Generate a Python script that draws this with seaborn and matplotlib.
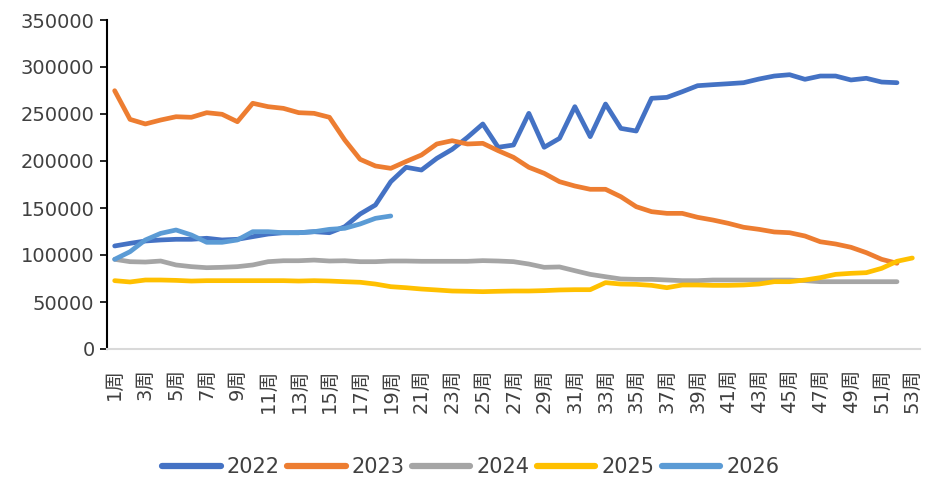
import numpy as np
import pandas as pd
import seaborn as sns
import matplotlib.pyplot as plt

weeks = list(range(1, 54))
week_labels = [f"{w}周" for w in weeks]

s2022 = [109600, 112400, 114900, 116000, 116700, 116700, 117800, 116000, 116700, 119500,
         122300, 123700, 123700, 124800, 123700, 130100, 143600, 153200, 178000, 193300,
         190400, 202800, 212400, 225200, 239400, 214600, 217000, 250700, 214600, 224100,
         257800, 225900, 260600, 234700, 231900, 266700, 267700, 273700, 280100, 281200,
         282200, 283300, 287200, 290400, 291800, 286900, 290400, 290400, 286200, 288000,
         284000, 283300]
s2023 = [274800, 244300, 239400, 243600, 247100, 246500, 251400, 249700, 241800, 261400,
         257800, 256000, 251400, 250700, 246500, 222300, 201800, 194700, 192200, 199500,
         206400, 218100, 221600, 218100, 218800, 211000, 203900, 193300, 186900, 178000,
         173400, 169900, 169900, 162000, 151400, 146100, 144300, 144300, 140100, 137200,
         133700, 129500, 127300, 124500, 123700, 120200, 114100, 111700, 108200, 102500,
         95400, 91200]
s2024 = [95400, 92900, 92500, 93600, 89400, 87600, 86500, 86900, 87600, 89400,
         92900, 93900, 93900, 94600, 93600, 93900, 92900, 92900, 93600, 93600,
         93300, 93300, 93300, 93300, 94000, 93600, 92900, 90400, 86900, 87300,
         83300, 79400, 76900, 74500, 74100, 74100, 73400, 72700, 72700, 73400,
         73400, 73400, 73400, 73400, 73400, 72700, 71600, 71600, 71600, 71600,
         71600, 71600]
s2025 = [72700, 71300, 73400, 73400, 73000, 72300, 72700, 72700, 72700, 72700,
         72700, 72700, 72300, 72700, 72300, 71600, 71000, 69100, 66300, 65200,
         63800, 62800, 61700, 61400, 61000, 61400, 61700, 61700, 62100, 62800,
         63100, 63100, 70600, 69100, 68800, 67700, 65200, 68100, 68100, 67700,
         67700, 68100, 69100, 71600, 71600, 73400, 75900, 79400, 80500, 81200,
         85800, 93300, 96800]
s2026 = [95400, 103500, 116000, 123000, 126600, 121300, 113500, 113500, 116000, 124800,
         124800, 123700, 123700, 124800, 127300, 128400, 133000, 139000, 141500]

years = ["2022", "2023", "2024", "2025", "2026"]
colors = ["#4472C4", "#ED7D31", "#A5A5A5", "#FFC000", "#5B9BD5"]

frames = []
for year, vals in zip(years, [s2022, s2023, s2024, s2025, s2026]):
    frames.append(pd.DataFrame({"week": weeks[:len(vals)], "value": vals, "year": year}))
df = pd.concat(frames, ignore_index=True)

sns.set_theme(style="white")
plt.rcParams["font.family"] = ["DejaVu Sans", "Noto Sans CJK SC"]
text_color = "#404040"

fig = plt.figure(figsize=(9.26, 4.79), dpi=100)
ax = fig.add_axes([107 / 926, 1 - 349 / 479, 813 / 926, 329 / 479])

sns.lineplot(data=df, x="week", y="value", hue="year", hue_order=years,
             palette=dict(zip(years, colors)), linewidth=3.4, ax=ax,
             solid_capstyle="round", legend=True)

ax.set_xlim(0.5, 53.5)
ax.set_ylim(0, 350000)
ax.set_yticks(range(0, 350001, 50000))
ax.set_yticklabels([str(v) for v in range(0, 350001, 50000)], fontsize=14, color=text_color)
ax.set_xticks(weeks[::2])
ax.set_xticklabels(week_labels[::2], rotation=90, fontsize=14, color=text_color)
ax.tick_params(axis="x", length=0, pad=14)
ax.tick_params(axis="y", length=5, width=1.2, color="black", direction="out", left=True, pad=4)
ax.set_xlabel("")
ax.set_ylabel("")

for side in ["top", "right"]:
    ax.spines[side].set_visible(False)
ax.spines["left"].set_color("black")
ax.spines["left"].set_linewidth(1.5)
ax.spines["bottom"].set_color("#D9D9D9")
ax.spines["bottom"].set_linewidth(1.5)

handles, labels = ax.get_legend_handles_labels()
ax.legend_.remove()
for h in handles:
    h.set_linewidth(4.5)
leg = fig.legend(handles, labels, loc="center", bbox_to_anchor=(471 / 926, 1 - 467 / 479),
                 ncol=5, frameon=False, fontsize=15, handlelength=2.8,
                 handletextpad=0.3, columnspacing=0.35)
for t in leg.get_texts():
    t.set_color(text_color)

fig.savefig("out.png", dpi=100)
